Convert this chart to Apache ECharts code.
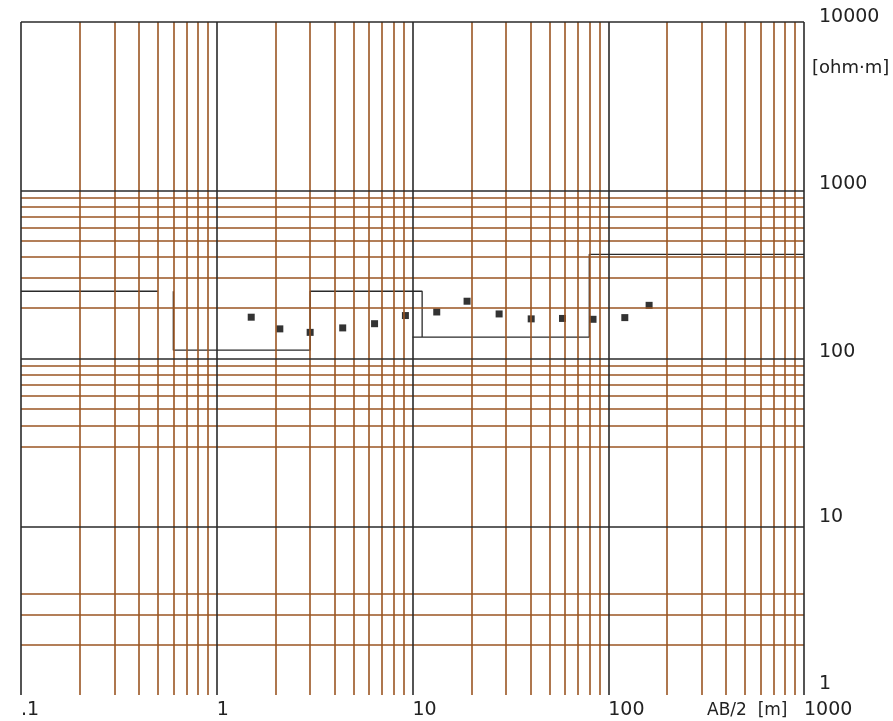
<!DOCTYPE html>
<html>
<head>
    <meta charset="utf-8">
    <style>
        html, body {
            width: 100%;
            height: 100%;
            margin: 0;
            background: #fff;
        }

        #chart-panel {
            width: 893px;
            height: 721px;
        }
    </style>
    <script src="https://cdn.jsdelivr.net/npm/echarts@6/dist/echarts.min.js"></script>
</head>
<body>
<div id="chart-panel"></div>
<script type="text/javascript">
  // measured sounding: AB/2 [m] and apparent resistivity [ohm.m]
  var abHalf = [1.5, 2.1, 3, 4.4, 6.4, 9.2, 13.3, 19, 27.7, 40.4, 58.4, 83.6, 121.5, 161.7]
  var rhoApp = [176, 150, 143, 152, 161, 180, 189, 219, 184, 172, 173, 171, 175, 207]

  // layered model, drawn as three separate pieces like in the original plot
  var modelA = [[0.1, 251], [0.5, 251]]
  var modelB = [[0.6, 251], [0.6, 112], [3, 112], [3, 251], [11.2, 251], [11.2, 134]]
  var modelC = [[10, 134], [80, 134], [80, 416], [1000, 416]]

  // grid lines (the paper only has some of the minor lines on y)
  var xMajor = [0.1, 1, 10, 100, 1000]
  var yMajor = [10, 100, 1000, 10000]
  var xMinor = [0.2, 0.3, 0.4, 0.5, 0.6, 0.7, 0.8, 0.9,
                2, 3, 4, 5, 6, 7, 8, 9,
                20, 30, 40, 50, 60, 70, 80, 90,
                200, 300, 400, 500, 600, 700, 800, 900]
  var yMinor = [2, 3, 4,
                30, 40, 50, 60, 70, 80, 90,
                200, 300, 400, 500, 600, 700, 800, 900]

  var xTickLabels = {'0.1': '.1', '1': '1', '10': '10', '100': '100', '1000': '1000'}
  var yTickLabels = {'1': '1', '10': '10', '100': '100', '1000': '1000', '10000': '10000'}
  // y labels sit a bit above their lines, more so lower down
  var yLabelLift = {'1': 'l22', '10': 'l19', '100': 'l12', '1000': 'l12', '10000': 'l10'}

  var labelFont = 'DejaVu Sans'
  var brown = '#9a5522'
  var black = '#2a2a2a'

  function gridLines(xs, ys) {
    return xs.map(function (v) { return {xAxis: v} })
             .concat(ys.map(function (v) { return {yAxis: v} }))
  }

  function liftStyle(pad) {
    return {
      fontSize: 19,
      fontFamily: labelFont,
      color: '#222',
      padding: [0, 0, pad, 0]
    }
  }

  var myChart = echarts.init(document.getElementById('chart-panel'))

  var option = {
    animation: false,
    grid: {
      left: 21,
      right: 89,
      top: 22,
      bottom: 26
    },
    xAxis: {
      type: 'log',
      logBase: 10,
      min: 0.1,
      max: 1000,
      splitNumber: 4,
      axisLine: {show: false},
      axisTick: {show: false},
      splitLine: {show: false},
      axisLabel: {
        margin: 6,
        align: 'left',
        fontSize: 19,
        fontFamily: labelFont,
        color: '#222',
        formatter: function (v) {
          return xTickLabels[String(v)] || ''
        }
      }
    },
    yAxis: {
      type: 'log',
      logBase: 10,
      min: 1,
      max: 10000,
      splitNumber: 4,
      position: 'right',
      axisLine: {show: false},
      axisTick: {show: false},
      splitLine: {show: false},
      axisLabel: {
        margin: 15,
        align: 'left',
        verticalAlign: 'middle',
        fontSize: 19,
        fontFamily: labelFont,
        color: '#222',
        formatter: function (v) {
          var key = String(v)
          if (!yTickLabels[key]) return ''
          return '{' + yLabelLift[key] + '|' + yTickLabels[key] + '}'
        },
        rich: {
          l10: liftStyle(10),
          l12: liftStyle(12),
          l19: liftStyle(19),
          l22: liftStyle(22)
        }
      }
    },
    graphic: [
      {
        type: 'text',
        left: 812,
        top: 59,
        silent: true,
        style: {
          text: '[ohm·m]',
          fontSize: 18,
          fontFamily: labelFont,
          fill: '#222'
        }
      },
      {
        type: 'text',
        left: 707,
        top: 702,
        silent: true,
        style: {
          text: 'AB/2  [m]',
          fontSize: 17,
          fontFamily: labelFont,
          fill: '#222'
        }
      }
    ],
    series: [
      {
        // brown minor grid
        type: 'line',
        data: [],
        z: 1,
        silent: true,
        markLine: {
          silent: true,
          symbol: ['none', 'none'],
          label: {show: false},
          lineStyle: {color: brown, width: 1.6, type: 'solid'},
          emphasis: {disabled: true},
          data: gridLines(xMinor, yMinor)
        }
      },
      {
        // black decade lines
        type: 'line',
        data: [],
        z: 2,
        silent: true,
        markLine: {
          silent: true,
          symbol: ['none', 'none'],
          label: {show: false},
          lineStyle: {color: black, width: 1.6, type: 'solid'},
          emphasis: {disabled: true},
          data: gridLines(xMajor, yMajor)
        }
      },
      {
        type: 'line',
        data: modelA,
        z: 3,
        symbol: 'none',
        lineStyle: {color: black, width: 1.3}
      },
      {
        type: 'line',
        data: modelB,
        z: 3,
        symbol: 'none',
        lineStyle: {color: black, width: 1.3}
      },
      {
        type: 'line',
        data: modelC,
        z: 3,
        symbol: 'none',
        lineStyle: {color: black, width: 1.3}
      },
      {
        type: 'scatter',
        z: 4,
        symbol: 'rect',
        symbolSize: 7,
        itemStyle: {color: '#000'},
        data: abHalf.map(function (x, i) { return [x, rhoApp[i]] })
      }
    ]
  }

  myChart.setOption(option)
</script>
</body>
</html>
